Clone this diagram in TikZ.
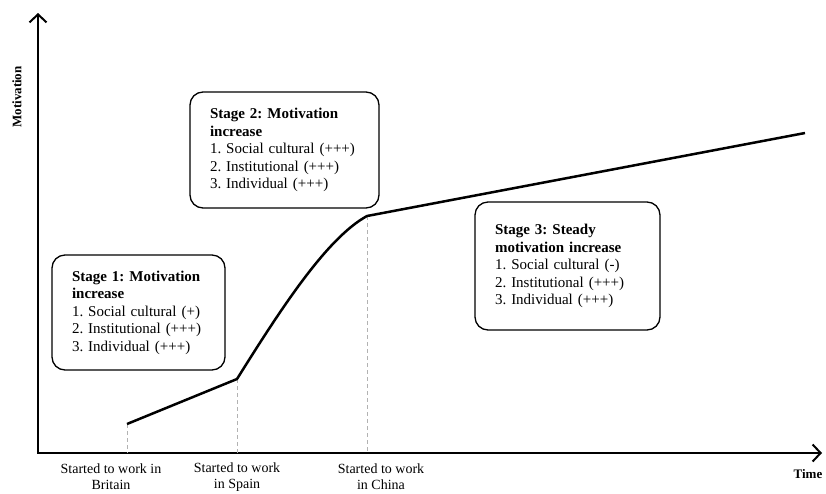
\documentclass[tikz,border=0pt]{standalone}
\usepackage{fontspec}
\setmainfont{Liberation Serif}
\usetikzlibrary{arrows.meta,positioning}

\tikzset{
  stagebox/.style={draw, line width=1.3pt, rounded corners=13pt, align=left,
    inner xsep=20pt, inner ysep=0pt, anchor=center,
    font=\fontsize{15}{17.5}\selectfont\frenchspacing},
  axisline/.style={line width=2pt, -{Straight Barb[length=8pt,width=17pt,line width=2pt]}},
  guide/.style={gray!60, line width=1pt, dash pattern=on 4pt off 3pt},
  timelabel/.style={align=center, font=\fontsize{14}{16}\selectfont\frenchspacing},
  axislabel/.style={font=\fontsize{13}{15}\selectfont\bfseries}
}

\begin{document}
\begin{tikzpicture}[x=1pt,y=-1pt]
    \useasboundingbox (0,0) rectangle (826,493);
    % Ejes
    \coordinate (origin) at (38,453);
    \coordinate (ytop) at (38,13);
    \coordinate (xend) at (822,453);
    \draw[axisline] (origin) -- (ytop);
    \draw[axisline] (37,453) -- (xend);
    \node[axislabel, rotate=90] (ylab) at (17,97) {Motivation};
    \node[axislabel] (xlab) at (808,474) {Time};

    % Puntos de la curva
    \coordinate (britain) at (127,424);
    \coordinate (spain) at (237,379);
    \coordinate (china) at (367,216);
    \coordinate (now) at (805,133);

    % Líneas guía
    \draw[guide] (britain) -- (britain |- origin);
    \draw[guide] (spain) -- (spain |- origin);
    \draw[guide] (china) -- (china |- origin);

    % Curva de motivación
    \draw[line width=2.5pt, line join=round] (britain) -- (spain)
        .. controls (282,307) and (327,238) .. (china) -- (now);

    % Etapas
    \node[stagebox, minimum width=173pt, minimum height=115pt, text width=133pt] (stage1) at (138.5,312.5)
        {\textbf{Stage 1: Motivation}\\\textbf{increase}\\1. Social cultural (+)\\2. Institutional (+++)\\3. Individual (+++)};
    \node[stagebox, minimum width=189pt, minimum height=116pt, text width=149pt] (stage2) at (284.5,150)
        {\textbf{Stage 2: Motivation}\\\textbf{increase}\\1. Social cultural (+++)\\2. Institutional (+++)\\3. Individual (+++)};
    \node[stagebox, minimum width=185pt, minimum height=128pt, text width=145pt] (stage3) at (567.5,266)
        {\textbf{Stage 3: Steady}\\\textbf{motivation increase}\\1. Social cultural (-)\\2. Institutional (+++)\\3. Individual (+++)};

    % Etiquetas del eje temporal
    \node[timelabel] (lbritain) at (111,477) {Started to work in\\Britain};
    \node[timelabel] (lspain) at (237,477) {Started to work\\in Spain};
    \node[timelabel] (lchina) at (381,477) {Started to work\\in China};
\end{tikzpicture}
\end{document}
